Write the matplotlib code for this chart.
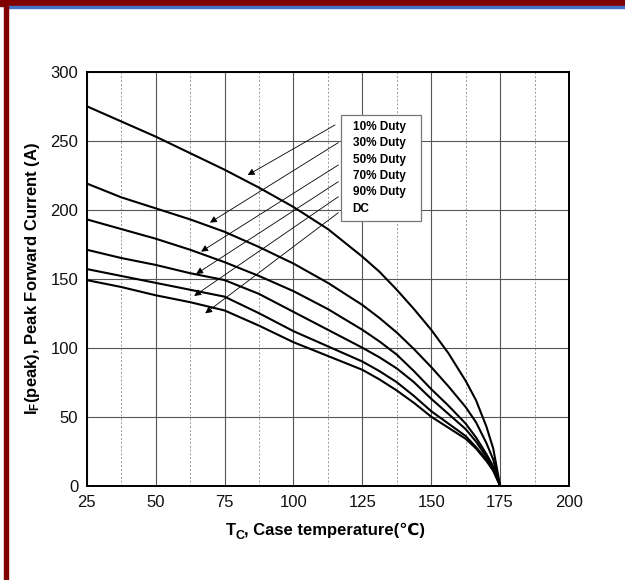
"""Peak forward current vs case temperature derating chart."""

import matplotlib
matplotlib.use("Agg")

import matplotlib.pyplot as plt
import matplotlib.ticker as mticker
from matplotlib.patches import Rectangle

plt.rcParams["font.family"] = ["Liberation Sans", "DejaVu Sans"]
plt.rcParams["mathtext.fontset"] = "custom"
plt.rcParams["mathtext.rm"] = "Liberation Sans"
plt.rcParams["mathtext.bf"] = "Liberation Sans:bold"
plt.rcParams["mathtext.it"] = "Liberation Sans:italic"

# ── Data ───────────────────────────────────────────────────────────────────
CASE_TEMP = [25, 37.5, 50, 62.5, 75, 81.25, 87.5, 100, 112.5, 125, 131.25,
             137.5, 143.75, 150, 156.25, 162.5, 166.25, 170, 172.5, 175]

DUTY_10 = [275, 264, 253, 241, 229, 222.5, 216, 202, 186, 166, 155, 142, 128, 113, 96, 76, 62, 43, 27, 0]
DUTY_30 = [219, 209, 201, 193, 184, 178.5, 173, 161, 147, 131, 121.5, 111, 99, 86, 72, 57, 46, 31, 19, 0]
DUTY_50 = [193, 186, 179, 171, 162, 157, 152, 141, 128, 113, 104.5, 95, 83, 70, 58, 45, 35, 23, 14, 0]
DUTY_70 = [171, 165, 160, 154, 149, 144, 139, 126, 113, 100, 93, 85, 75, 63, 52, 41, 32, 21, 13, 0]
DUTY_90 = [157, 152, 147, 142, 137, 131, 125, 112, 101, 90, 83, 75, 65, 54, 45, 36, 28, 19, 11, 0]
DUTY_DC = [149, 144, 138, 133, 127, 121.5, 116, 104, 94, 84, 77, 69, 60, 50, 42, 34, 27, 18, 11, 0]

LABELS = ["10% Duty", "30% Duty", "50% Duty", "70% Duty", "90% Duty", "DC"]
SERIES = [DUTY_10, DUTY_30, DUTY_50, DUTY_70, DUTY_90, DUTY_DC]

X_TICKS = [25, 50, 75, 100, 125, 150, 175, 200]
Y_TICKS = [0, 50, 100, 150, 200, 250, 300]

# callout arrows: (tail at the label box, head on the curve), in data units
ARROW_TAILS = [(115.1, 261.4), (116.3, 248.6), (116.3, 232.4),
               (116.3, 220.3), (116.3, 209.4), (116.3, 197.8)]
ARROW_HEADS = [(83.4, 225.1), (69.7, 190.6), (66.5, 169.6),
               (64.7, 153.4), (64.0, 137.5), (68.0, 124.9)]
LABEL_Y = [260.1, 248.1, 236.0, 224.4, 213.0, 200.3]

DARK_RED = "#800000"
BLUE = "#4472c4"
GRID = "#555555"

W, H = 625, 580
fig = plt.figure(figsize=(W / 100, H / 100), dpi=100)
fig.patch.set_facecolor("white")

# page decoration: red band at top, blue rule, red bar on the left
fig.patches.append(Rectangle((0, (H - 6.3) / H), 1, 6.3 / H,
                             transform=fig.transFigure, color=DARK_RED, zorder=0))
fig.patches.append(Rectangle((7.5 / W, (H - 8) / H), 1, 1.7 / H,
                             transform=fig.transFigure, color=BLUE, zorder=0))
fig.patches.append(Rectangle((4 / W, 0), 3.5 / W, (H - 6.3) / H,
                             transform=fig.transFigure, color=DARK_RED, zorder=0))

ax = fig.add_axes([86.7 / W, 94.3 / H, 482.3 / W, 414 / H])

ax.set_xlim(25, 200)
ax.set_ylim(0, 300)
ax.set_xticks(X_TICKS)
ax.set_yticks(Y_TICKS)
ax.xaxis.set_minor_locator(mticker.MultipleLocator(12.5))

ax.grid(True, which="major", color=GRID, linewidth=0.8)
ax.grid(True, which="minor", axis="x", color="#999999", linewidth=0.7,
        linestyle=(0, (2, 2)))
ax.set_axisbelow(True)

for sp in ax.spines.values():
    sp.set_linewidth(1.4)
    sp.set_color("black")

ax.tick_params(which="both", length=0, labelsize=12, colors="#111111")
ax.tick_params(axis="x", pad=7)
ax.tick_params(axis="y", pad=6)

for vals in SERIES:
    ax.plot(CASE_TEMP, vals, color="black", linewidth=1.5, zorder=3,
            solid_joinstyle="round")

# label box
ax.add_patch(Rectangle((117.2, 192), 29.2, 76.6, facecolor="white",
                       edgecolor="#777777", linewidth=0.9, zorder=4))
for lab, y in zip(LABELS, LABEL_Y):
    ax.text(121.5, y, lab, fontsize=8.5, fontweight="bold", va="center",
            ha="left", zorder=5)

for tail, head in zip(ARROW_TAILS, ARROW_HEADS):
    ax.annotate("", xy=head, xytext=tail,
                arrowprops=dict(arrowstyle="-|>", color="black", lw=0.6,
                                mutation_scale=10, shrinkA=0, shrinkB=0),
                zorder=4)

ax.set_ylabel(r"$\mathbf{I_F}$(peak), Peak Forward Current (A)", fontsize=12,
              fontweight="bold", labelpad=6)

# x label built from pieces so the subscript and the ℃ sign both render
renderer = fig.canvas.get_renderer()
pieces = [("T", 12, 0), ("C", 9, -4), (", Case temperature(℃)", 12, 0)]
texts = []
for s, size, dy in pieces:
    t = fig.text(0, 0, s, fontsize=size, fontweight="bold", va="baseline",
                 ha="left")
    texts.append((t, dy))
widths = [t.get_window_extent(renderer).width for t, _ in texts]
x = 325.5 - sum(widths) / 2
base = H - 535
for (t, dy), w in zip(texts, widths):
    t.set_position((x / W, (base + dy) / H))
    x += w

fig.savefig("out.png", dpi=100, facecolor="white")
